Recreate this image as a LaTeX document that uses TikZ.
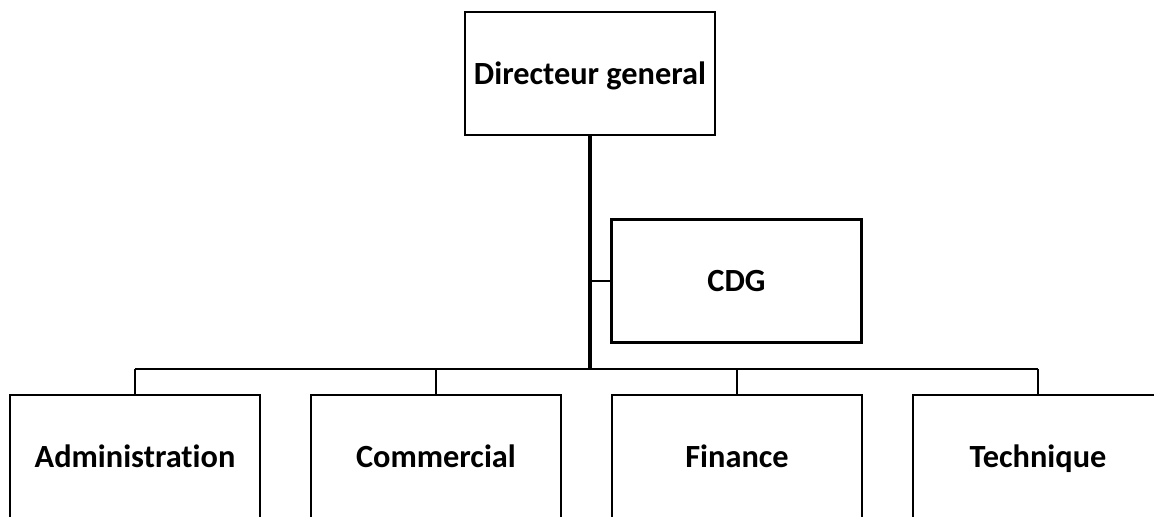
\documentclass[tikz,border=0pt]{standalone}
\usepackage{fontspec}
\setmainfont[Ligatures=NoCommon]{Carlito}
\tikzset{
    unitbox/.style={draw,line width=1.8pt,minimum width=6.25cm,minimum height=3.08cm,
        text height=17pt,text depth=2pt,
        font=\fontsize{23}{27}\selectfont\bfseries},
    link/.style={line width=1.6pt}
}
\begin{document}
\begin{tikzpicture}[x=0.025cm,y=-0.025cm]
        \clip(0,0)rectangle(1154,516);
        \fill[white](0,0)rectangle(1154,516);
        \node[unitbox](dg)at(590,73.5){Directeur general};
        \node[unitbox](cdg)at(736.5,281){CDG};
        \coordinate(hub)at(590,369);
        \foreach \x/\n/\t in {
        135/admin/Administration,
        436/comm/Commercial,
        737/fin/Finance,
        1038/tech/Technique}{
            \node[unitbox](\n)at(\x,456.5){\t};
            \draw[link](\n.north)--(\n.north|-hub);
        }
        \draw[line width=2.4pt](dg.south)--(hub);
        \draw[link](admin.north|-hub)--(tech.north|-hub);
        \draw[line width=1.4pt](cdg.west)--(cdg.west-|hub);
        % \draw(hub)node{};
    \end{tikzpicture}
\end{document}
